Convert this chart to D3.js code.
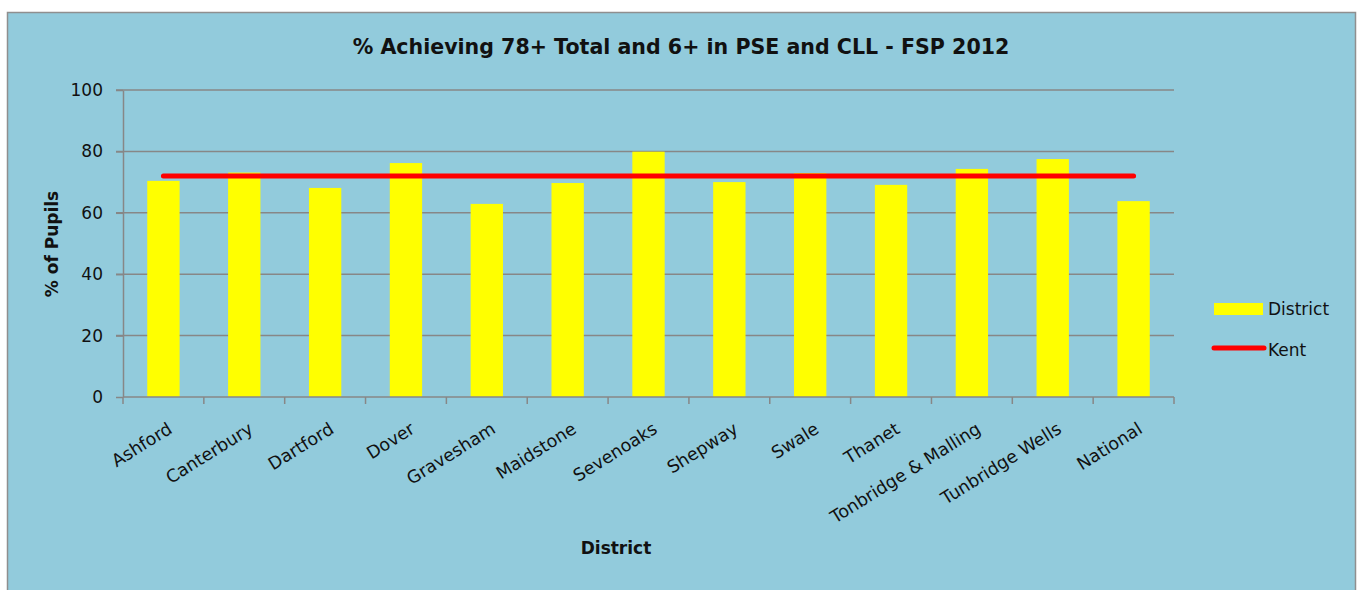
<!DOCTYPE html>
<html><head><meta charset="utf-8">
<script src="https://cdn.jsdelivr.net/npm/d3@7"></script>
<style>
html,body{margin:0;padding:0;background:#fff;}
svg{display:block;font-family:"DejaVu Sans",Verdana,sans-serif;}
</style></head>
<body>
<svg id="chart" width="1365" height="590"></svg>
<script>
const categories = ["Ashford","Canterbury","Dartford","Dover","Gravesham","Maidstone","Sevenoaks","Shepway","Swale","Thanet","Tonbridge & Malling","Tunbridge Wells","National"];
const districtValues = [70.4,73.1,68.1,76.2,62.9,69.7,79.9,70.0,72.9,69.1,74.3,77.5,63.8];
const kentValues = [72,72,72,72,72,72,72,72,72,72,72,72,72];
const yTicks = [0,20,40,60,80,100];
const title = "% Achieving 78+ Total and 6+ in PSE and CLL - FSP 2012";
const yTitle = "% of Pupils";
const xTitle = "District";
const seriesNames = ["District","Kent"];

const svg = d3.select("#chart");
const bg = "#92CBDC";
const gridC = "#878787";

svg.append("rect").attr("x",7.5).attr("y",12.5).attr("width",1348).attr("height",600)
  .attr("fill",bg).attr("stroke","#8f8f8f").attr("stroke-width",1.5);

const m = {left:123, right:1174, top:90, bottom:397};
const x = d3.scaleBand().domain(categories).range([m.left,m.right]).paddingInner(0.6).paddingOuter(0.3);
const xb = d3.scaleBand().domain(categories).range([m.left,m.right]);
const y = d3.scaleLinear().domain([0,100]).range([m.bottom,m.top]);

// gridlines
svg.append("g").selectAll("line").data(yTicks.filter(d=>d>0)).join("line")
  .attr("x1",m.left-7).attr("x2",m.right).attr("y1",d=>y(d)).attr("y2",d=>y(d))
  .attr("stroke",gridC).attr("stroke-width",1.5);

// bars
svg.append("g").selectAll("rect").data(categories).join("rect")
  .attr("x",d=>x(d)).attr("width",x.bandwidth())
  .attr("y",(d,i)=>y(districtValues[i])).attr("height",(d,i)=>y(0)-y(districtValues[i]))
  .attr("fill","#FFFF00");

// y axis
const yAxis = svg.append("g").attr("transform",`translate(${m.left},0)`)
  .call(d3.axisLeft(y).tickValues(yTicks).tickSize(7).tickPadding(13).tickSizeOuter(0));
yAxis.select(".domain").attr("stroke",gridC).attr("stroke-width",1.5);
yAxis.selectAll(".tick line").attr("stroke",gridC).attr("stroke-width",1.5);
yAxis.selectAll("text").attr("font-size",17).attr("fill","#111").attr("font-family","DejaVu Sans");

// x axis
const xAxis = svg.append("g").attr("transform",`translate(0,${m.bottom})`);
xAxis.append("line").attr("x1",m.left).attr("x2",m.right).attr("stroke",gridC).attr("stroke-width",1.5);
const bounds = categories.map(c=>xb(c)).concat([m.right]);
xAxis.selectAll(".xt").data(bounds).join("line").attr("class","xt")
  .attr("x1",d=>d).attr("x2",d=>d).attr("y1",0).attr("y2",7)
  .attr("stroke",gridC).attr("stroke-width",1.5);
xAxis.selectAll(".xl").data(categories).join("text").attr("class","xl")
  .attr("transform",d=>`translate(${xb(d)+xb.bandwidth()/2+10},${35}) rotate(-32)`)
  .attr("text-anchor","end").attr("font-size",17.5).attr("fill","#111")
  .text(d=>d);

// Kent line
const line = d3.line().x((d,i)=>xb(categories[i])+xb.bandwidth()/2).y(d=>y(d));
svg.append("path").datum(kentValues).attr("d",line).attr("fill","none")
  .attr("stroke","#FF0000").attr("stroke-width",5).attr("stroke-linecap","round");

// titles
const t = svg.append("text").attr("x",681).attr("y",54).attr("text-anchor","middle")
  .attr("font-weight","bold").attr("font-size",18).attr("fill","#111").text(title);
const tl = t.node().getComputedTextLength();
t.attr("font-size",18*657/tl);

svg.append("text").attr("transform","translate(58,244) rotate(-90)").attr("text-anchor","middle")
  .attr("font-weight","bold").attr("font-size",17).attr("fill","#111").text(yTitle);
svg.append("text").attr("x",616).attr("y",554).attr("text-anchor","middle")
  .attr("font-weight","bold").attr("font-size",17).attr("fill","#111").text(xTitle);

// legend
const lg = svg.append("g");
lg.append("rect").attr("x",1214).attr("y",303).attr("width",49).attr("height",12).attr("fill","#FFFF00");
lg.append("line").attr("x1",1214).attr("x2",1264).attr("y1",348).attr("y2",348)
  .attr("stroke","#FF0000").attr("stroke-width",5).attr("stroke-linecap","round");
lg.selectAll(".lt").data(seriesNames).join("text").attr("class","lt")
  .attr("x",1268).attr("y",(d,i)=>315+i*41).attr("font-size",17).attr("fill","#111").text(d=>d);
</script>
</body></html>
